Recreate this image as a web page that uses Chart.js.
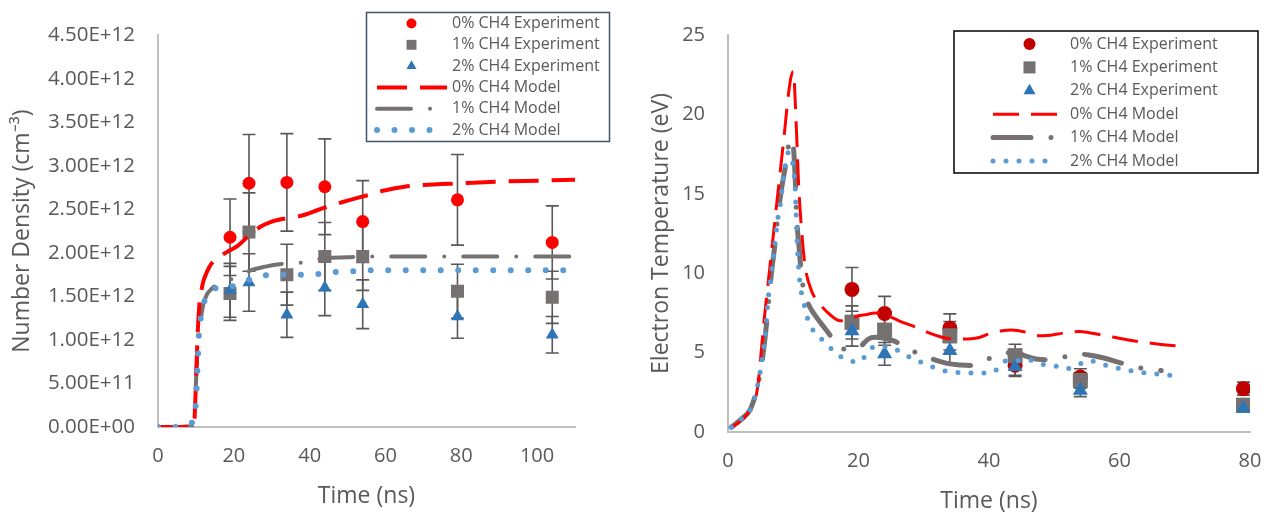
<!DOCTYPE html>
<html>
<head>
<meta charset="utf-8">
<script src="https://cdn.jsdelivr.net/npm/chart.js@4.4.1/dist/chart.umd.min.js"></script>
<style>
  html, body { margin: 0; padding: 0; background: #fff; }
  #wrap { position: relative; width: 1264px; height: 512px; }
  .pane { position: absolute; top: 0; width: 632px; height: 512px; }
</style>
</head>
<body>
<div id="wrap">
  <div class="pane" style="left:0"><canvas id="densChart"></canvas></div>
  <div class="pane" style="left:632px"><canvas id="tempChart"></canvas></div>
</div>
<script>
// ---- left panel: number density, values in units of 1E+12 cm^-3 ----
const densTimes = [19, 24, 34, 44, 54, 79, 104];
const dens0 = [2.18, 2.80, 2.81, 2.76, 2.36, 2.61, 2.12];
const dens1 = [1.535, 2.24, 1.75, 1.96, 1.96, 1.56, 1.49];
const dens2 = [1.57, 1.66, 1.29, 1.60, 1.41, 1.27, 1.06];
const dens0Err = [0.44, 0.56, 0.56, 0.55, 0.47, 0.52, 0.42];
const dens1Err = [0.31, 0.45, 0.35, 0.39, 0.39, 0.31, 0.30];
const dens2Err = [0.31, 0.33, 0.26, 0.32, 0.28, 0.25, 0.21];
const densTickX = [0, 20, 40, 60, 80, 100];

const densModel0T = [0, 5, 9.5, 10, 10.5, 11, 11.5, 12, 13, 14, 15, 17, 19, 21, 24, 27, 30, 34, 38, 42, 46, 50, 55, 60, 65, 70, 80, 90, 100, 110];
const densModel0 = [0, 0, 0.02, 0.5, 1.1, 1.45, 1.58, 1.68, 1.79, 1.87, 1.92, 1.98, 2.03, 2.08, 2.2, 2.3, 2.36, 2.4, 2.43, 2.49, 2.55, 2.6, 2.66, 2.72, 2.76, 2.78, 2.8, 2.82, 2.83, 2.84];
const densModel1T = [0, 5, 9, 9.5, 10, 10.5, 11, 11.5, 12, 12.6, 13, 14, 15, 17, 20, 24.5, 28, 32, 36, 40, 44, 50, 55, 60, 70, 80, 90, 100, 110];
const densModel1 = [0, 0, 0.01, 0.1, 0.5, 0.95, 1.15, 1.3, 1.42, 1.49, 1.53, 1.58, 1.62, 1.66, 1.71, 1.8, 1.84, 1.87, 1.88, 1.9, 1.94, 1.95, 1.96, 1.96, 1.96, 1.96, 1.96, 1.96, 1.96];
const densModel2T = [0, 5, 9.2, 10, 10.4, 10.8, 11.3, 12.3, 14, 15.5, 18, 20, 24, 28, 33, 38, 43, 47, 52, 56, 60, 70, 80, 90, 100, 110];
const densModel2 = [0, 0, 0.06, 0.28, 0.66, 1.06, 1.26, 1.45, 1.55, 1.6, 1.61, 1.62, 1.69, 1.74, 1.75, 1.75, 1.76, 1.78, 1.79, 1.8, 1.8, 1.8, 1.8, 1.8, 1.8, 1.8];

// ---- right panel: electron temperature (eV) ----
const tempTimes = [19, 24, 34, 44, 54, 79];
const temp0 = [8.98, 7.46, 6.54, 4.2, 3.46, 2.73];
const temp1 = [6.9, 6.42, 6.06, 4.81, 3.25, 1.69];
const temp2 = [6.37, 4.92, 5.12, 4.12, 2.62, 1.48];
const temp0Err = [1.38, 1.08, 0.9, 0.63, 0.52, 0.41];
const temp1Err = [1.04, 0.96, 0.9, 0.72, 0.49, 0.25];
const temp2Err = [0.96, 0.72, 0.77, 0.62, 0.39, 0.22];

const tempModel0T = [0.5, 1.5, 2.5, 3.5, 4.5, 5.5, 6.5, 7.5, 8.5, 9.5, 10, 10.5, 10.8, 11.3, 11.8, 12.8, 14, 15.6, 17.2, 18.5, 19.8, 21.3, 22.5, 24, 26.2, 28.9, 30.6, 32.5, 34, 35.6, 37.3, 38.5, 40.6, 42, 43.4, 45.8, 47.3, 49, 50.5, 52, 53.8, 55.2, 56.5, 59, 61.4, 63.5, 65.8, 68, 69.9];
const tempModel0 = [0.3, 0.55, 0.9, 1.5, 2.7, 6.9, 10.7, 14.5, 18.25, 22.0, 22.7, 18.9, 15.75, 12.6, 10.5, 8.9, 8.1, 7.4, 7.0, 7.05, 7.3, 7.4, 7.5, 7.4, 7.0, 6.58, 6.27, 6.0, 5.87, 5.85, 5.87, 5.95, 6.27, 6.38, 6.42, 6.27, 6.06, 6.08, 6.17, 6.27, 6.33, 6.27, 6.17, 5.98, 5.79, 5.66, 5.54, 5.45, 5.37];
const tempModel1T = [0.5, 2, 3.5, 4.65, 5.3, 5.8, 6.6, 7.1, 7.7, 8.2, 9.0, 9.5, 10, 10.3, 10.5, 10.9, 11.3, 11.8, 12.5, 13.6, 14.9, 16, 17.1, 18.5, 20.1, 21.5, 22.5, 24, 25.3, 26.8, 28.3, 29.8, 31.3, 32.7, 34, 35.6, 37.3, 39, 40.9, 42.4, 43.9, 45.5, 47.2, 48.7, 50.2, 51.8, 53.5, 55.3, 57.1, 59.8, 62.5, 64.5, 66.4];
const tempModel1 = [0.3, 0.8, 1.5, 3.1, 4.7, 6.4, 9.8, 11.5, 13.8, 15.3, 17.2, 18.46, 18.0, 16.0, 13.7, 11.6, 9.7, 8.67, 7.9, 7.2, 6.5, 5.9, 5.33, 5.2, 5.33, 5.85, 5.96, 5.9, 5.75, 5.45, 5.1, 4.85, 4.6, 4.42, 4.29, 4.22, 4.19, 4.4, 4.81, 4.95, 5.02, 4.8, 4.6, 4.55, 4.6, 4.75, 4.92, 4.85, 4.71, 4.4, 4.08, 3.98, 3.87];
const tempModel2T = [0.5, 2, 3.5, 4.65, 5.3, 5.8, 6.1, 6.6, 7.1, 7.6, 8.0, 8.7, 9.25, 9.8, 10.3, 10.6, 11, 11.3, 11.8, 12.3, 13.3, 14.9, 16.4, 17.9, 20, 21.3, 22.5, 24.6, 26.1, 27.7, 29.2, 31, 32.8, 34.8, 36.9, 38.9, 40.8, 42.2, 44, 46.1, 47.7, 49.9, 51.8, 53.5, 55.4, 57, 59.1, 61, 63, 65, 66.9, 69.1];
const tempModel2 = [0.3, 0.8, 1.48, 3.15, 4.8, 6.5, 8.15, 9.9, 11.6, 13.35, 14.3, 16.6, 17.6, 17.2, 15.3, 12.0, 9.5, 8.67, 7.83, 7.0, 6.27, 5.65, 5.02, 4.6, 4.4, 4.92, 5.4, 5.33, 5.12, 4.75, 4.46, 4.15, 3.88, 3.77, 3.71, 3.71, 3.81, 4.44, 4.5, 4.54, 4.29, 4.19, 3.98, 4.2, 4.5, 4.3, 4.08, 3.92, 3.77, 3.68, 3.6, 3.52];

const seriesLabels = ['0% CH4 Experiment', '1% CH4 Experiment', '2% CH4 Experiment',
                      '0% CH4 Model', '1% CH4 Model', '2% CH4 Model'];

const FONT = "'Open Sans', sans-serif";
const TXT = '#595959';

function pts(xs, ys) {
  return xs.map((x, i) => ({ x: x, y: ys[i] }));
}

function sci(v) {
  return (v * 1e12).toExponential(2).toUpperCase()
    .replace(/E([+-])(\d)$/, (m, s, d) => 'E' + s + '0' + d);
}

// error bars, drawn behind the markers
const errorBars = {
  id: 'errorBars',
  beforeDatasetsDraw(chart, args, o) {
    const ctx = chart.ctx;
    const x = chart.scales.x, y = chart.scales.y;
    ctx.save();
    ctx.strokeStyle = o.color;
    ctx.lineWidth = o.width;
    chart.data.datasets.forEach(ds => {
      if (!ds.errors) return;
      ds.data.forEach((p, i) => {
        const px = x.getPixelForValue(p.x);
        const top = y.getPixelForValue(p.y + ds.errors[i]);
        const bot = y.getPixelForValue(p.y - ds.errors[i]);
        ctx.beginPath();
        ctx.moveTo(px, top); ctx.lineTo(px, bot);
        ctx.moveTo(px - o.cap, top); ctx.lineTo(px + o.cap, top);
        ctx.moveTo(px - o.cap, bot); ctx.lineTo(px + o.cap, bot);
        ctx.stroke();
      });
    });
    ctx.restore();
  }
};

// boxed legend inside the plot, like the Excel one
const boxLegend = {
  id: 'boxLegend',
  afterDraw(chart, args, o) {
    const ctx = chart.ctx;
    ctx.save();
    ctx.fillStyle = '#fff';
    ctx.fillRect(o.x, o.y, o.w, o.h);
    ctx.strokeStyle = o.borderColor;
    ctx.lineWidth = o.borderWidth;
    ctx.strokeRect(o.x, o.y, o.w, o.h);
    chart.data.datasets.forEach((ds, i) => {
      const cy = o.firstRow + i * o.rowStep;
      if (ds.showLine) {
        ctx.save();
        ctx.strokeStyle = ds.borderColor;
        ctx.lineWidth = ds.borderWidth;
        ctx.lineCap = ds.borderCapStyle || 'butt';
        ctx.setLineDash(ds.borderDash || []);
        ctx.beginPath();
        ctx.moveTo(o.lineFrom, cy);
        ctx.lineTo(o.lineTo, cy);
        ctx.stroke();
        ctx.restore();
      } else {
        ctx.fillStyle = ds.backgroundColor;
        ctx.strokeStyle = ds.backgroundColor;
        Chart.helpers.drawPoint(ctx, { pointStyle: ds.pointStyle, radius: ds.legendRadius, rotation: 0, borderWidth: 0 }, o.symbolX, cy);
      }
      ctx.fillStyle = TXT;
      ctx.font = o.font;
      ctx.textAlign = 'left';
      ctx.textBaseline = 'middle';
      ctx.fillText(ds.label, o.textX, cy);
    });
    ctx.restore();
  }
};

function expSet(label, times, vals, errs, style, color, r, lr, order) {
  return {
    label: label, data: pts(times, vals), errors: errs,
    pointStyle: style, pointRadius: r, pointHoverRadius: r, legendRadius: lr,
    backgroundColor: color, borderColor: color, pointBorderWidth: 0,
    showLine: false, order: order
  };
}

function modelSet(label, ts, vals, color, width, dash, cap, order) {
  return {
    label: label, data: pts(ts, vals), showLine: true,
    borderColor: color, backgroundColor: color, borderWidth: width,
    borderDash: dash, borderCapStyle: cap, borderJoinStyle: 'round',
    pointRadius: 0, cubicInterpolationMode: 'monotone', order: order
  };
}

function axisCommon() {
  return {
    grid: { display: false, drawTicks: false },
    border: { display: true, color: '#BFBFBF', width: 2 }
  };
}

Chart.defaults.font.family = FONT;
Chart.defaults.color = TXT;

// ---------- left chart ----------
new Chart(document.getElementById('densChart'), {
  type: 'scatter',
  data: {
    datasets: [
      expSet(seriesLabels[0], densTimes, dens0, dens0Err, 'circle', '#FF0000', 6.5, 5, 5),
      expSet(seriesLabels[1], densTimes, dens1, dens1Err, 'rect', '#767171', 9.2, 7, 4),
      expSet(seriesLabels[2], densTimes, dens2, dens2Err, 'triangle', '#2E75B6', 7.5, 5.8, 3),
      modelSet(seriesLabels[3], densModel0T, densModel0, '#FF0000', 4, [30, 13], 'butt', 1),
      modelSet(seriesLabels[4], densModel1T, densModel1, '#767171', 4, [34, 19, 0, 19], 'round', 2),
      modelSet(seriesLabels[5], densModel2T, densModel2, '#5B9BD5', 6, [0, 17.5], 'round', 0)
    ]
  },
  options: {
    responsive: true, maintainAspectRatio: false, animation: false,
    layout: { padding: { left: 0, right: 57, top: 31, bottom: 0 } },
    plugins: {
      legend: { display: false }, tooltip: { enabled: false },
      errorBars: { color: '#595959', width: 1.6, cap: 6.5 },
      boxLegend: {
        x: 366.5, y: 12.5, w: 243, h: 129, borderColor: '#44546A', borderWidth: 1.5,
        firstRow: 23.5, rowStep: 21.3, symbolX: 411.5, lineFrom: 377, lineTo: 447, textX: 452,
        font: "16px 'Open Sans', sans-serif"
      }
    },
    scales: {
      x: Object.assign(axisCommon(), {
        type: 'linear', min: 0, max: 110,
        ticks: { padding: 17, font: { size: 20 }, color: TXT },
        afterBuildTicks(s) { s.ticks = densTickX.map(v => ({ value: v })); },
        title: { display: true, text: 'Time (ns)', font: { size: 23 }, color: TXT, padding: { top: 0, bottom: 1.5 } },
        afterFit(s) { s.height = 85; s.paddingLeft = 0; s.paddingRight = 0; }
      }),
      y: Object.assign(axisCommon(), {
        type: 'linear', min: 0, max: 4.5,
        ticks: { stepSize: 0.5, padding: 23, font: { size: 20.5 }, color: TXT, callback: v => sci(v) },
        title: { display: true, text: 'Number Density (cm\u207B\u00B3)', font: { size: 23 }, color: TXT, padding: { top: 8.7, bottom: 0 } },
        afterFit(s) { s.width = 158; }
      })
    }
  },
  plugins: [errorBars, boxLegend]
});

// ---------- right chart ----------
new Chart(document.getElementById('tempChart'), {
  type: 'scatter',
  data: {
    datasets: [
      expSet(seriesLabels[0], tempTimes, temp0, temp0Err, 'circle', '#C00000', 7.5, 6, 5),
      expSet(seriesLabels[1], tempTimes, temp1, temp1Err, 'rect', '#767171', 10.6, 8.5, 4),
      expSet(seriesLabels[2], tempTimes, temp2, temp2Err, 'triangle', '#2E75B6', 8.7, 7, 3),
      modelSet(seriesLabels[3], tempModel0T, tempModel0, '#FF0000', 3, [26, 12], 'butt', 1),
      modelSet(seriesLabels[4], tempModel1T, tempModel1, '#767171', 5, [38, 20, 0, 20], 'round', 2),
      modelSet(seriesLabels[5], tempModel2T, tempModel2, '#5B9BD5', 5, [0, 13], 'round', 0)
    ]
  },
  options: {
    responsive: true, maintainAspectRatio: false, animation: false,
    layout: { padding: { left: 0, right: 14, top: 32, bottom: 0 } },
    plugins: {
      legend: { display: false }, tooltip: { enabled: false },
      errorBars: { color: '#595959', width: 1.6, cap: 6.5 },
      boxLegend: {
        x: 322, y: 31, w: 304, h: 142, borderColor: '#000000', borderWidth: 1.5,
        firstRow: 44, rowStep: 23.4, symbolX: 397.5, lineFrom: 361, lineTo: 425, textX: 438,
        font: "16px 'Open Sans', sans-serif"
      }
    },
    scales: {
      x: Object.assign(axisCommon(), {
        type: 'linear', min: 0, max: 80,
        ticks: { stepSize: 20, padding: 17, font: { size: 20 }, color: TXT },
        title: { display: true, text: 'Time (ns)', font: { size: 23, lineHeight: 0.8 }, color: TXT, padding: { top: 0, bottom: 1 } },
        afterFit(s) { s.height = 80; s.paddingLeft = 0; s.paddingRight = 0; }
      }),
      y: Object.assign(axisCommon(), {
        type: 'linear', min: 0, max: 25,
        ticks: { stepSize: 5, padding: 23, font: { size: 20 }, color: TXT },
        title: { display: true, text: 'Electron Temperature (eV)', font: { size: 23 }, color: TXT, padding: { top: 16, bottom: 0 } },
        afterFit(s) { s.width = 96; }
      })
    }
  },
  plugins: [errorBars, boxLegend]
});
</script>
</body>
</html>
